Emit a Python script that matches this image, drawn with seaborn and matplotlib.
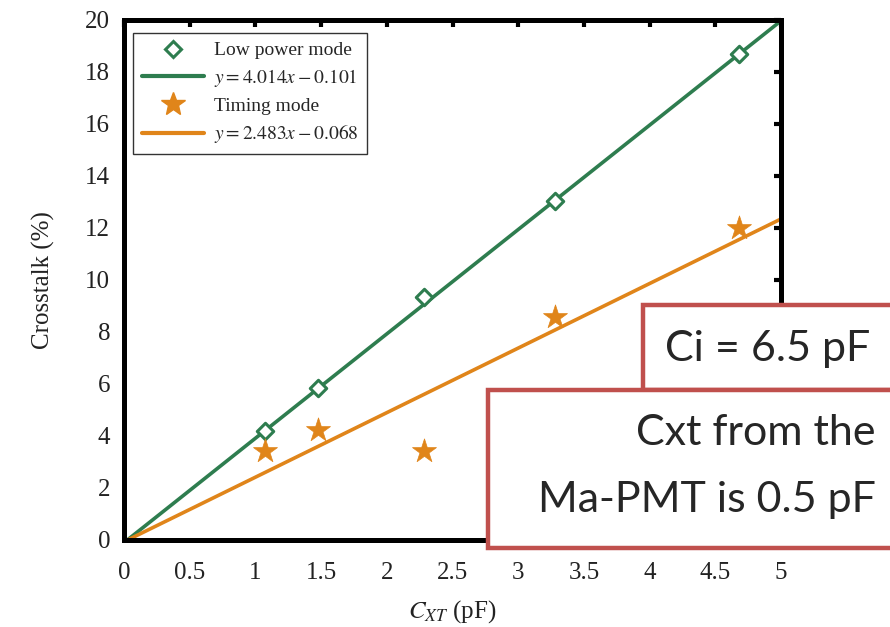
import numpy as np
import pandas as pd
import matplotlib
matplotlib.use("Agg")
import matplotlib.pyplot as plt
from matplotlib.patches import Rectangle
from matplotlib.lines import Line2D
import seaborn as sns

# Measured crosstalk versus coupling capacitance
cxt = [1.07, 1.48, 2.28, 3.28, 4.68]
low_power = [4.2, 5.85, 9.35, 13.03, 18.7]
timing = [3.42, 4.23, 3.42, 8.58, 12.0]

# Linear fits (slope, intercept)
fit_low = (4.014, -0.101)
fit_timing = (2.483, -0.068)

x_ticks = [0, 0.5, 1, 1.5, 2, 2.5, 3, 3.5, 4, 4.5, 5]
x_tick_labels = ["0", "0.5", "1", "1.5", "2", "2.5", "3", "3.5", "4", "4.5", "5"]
y_ticks = [0, 2, 4, 6, 8, 10, 12, 14, 16, 18, 20]

green = "#2E7D4F"
orange = "#E0851A"
box_red = "#C0504D"

sns.set_theme(style="white")
plt.rcParams["font.family"] = ["Liberation Serif", "DejaVu Serif"]
plt.rcParams["mathtext.fontset"] = "stix"

fig = plt.figure(figsize=(8.9, 6.27), dpi=100)
ax = fig.add_axes([124 / 890, 1 - 540 / 627, (781 - 124) / 890, (540 - 20) / 627])

points = pd.DataFrame({"cxt": cxt, "low": low_power, "timing": timing})
xfit = np.array([0.0, 5.0])
fits = pd.DataFrame({
    "x": xfit,
    "low": fit_low[0] * xfit + fit_low[1],
    "timing": fit_timing[0] * xfit + fit_timing[1],
})

sns.lineplot(data=fits, x="x", y="low", ax=ax, color=green, linewidth=2.6, zorder=2)
sns.lineplot(data=fits, x="x", y="timing", ax=ax, color=orange, linewidth=2.6, zorder=2)
sns.scatterplot(data=points, x="cxt", y="low", ax=ax, marker="D", s=70,
                facecolor="white", edgecolor=green, linewidth=2.2, zorder=3)
sns.scatterplot(data=points, x="cxt", y="timing", ax=ax, marker="*", s=330,
                color=orange, edgecolor=orange, linewidth=0.5, zorder=3)

ax.set_xlim(0, 5)
ax.set_ylim(0, 20)
ax.set_xticks(x_ticks)
ax.set_xticklabels(x_tick_labels)
ax.set_yticks(y_ticks)
ax.tick_params(axis="both", direction="in", length=5, width=3, labelsize=18,
               top=True, right=True, colors="black", labelcolor="#222222")
ax.tick_params(axis="x", pad=16)
ax.tick_params(axis="y", pad=10)
for sp in ax.spines.values():
    sp.set_visible(True)
    sp.set_linewidth(3.6)
    sp.set_color("black")

ax.set_xlabel(r"$C_{XT}$ (pF)", fontsize=18, color="#222222", labelpad=10)
ax.set_ylabel("Crosstalk (%)", fontsize=18, color="#222222", labelpad=22)

handles = [
    Line2D([], [], linestyle="none", marker="D", markersize=8, markerfacecolor="white",
           markeredgecolor=green, markeredgewidth=2.2),
    Line2D([], [], color=green, linewidth=3),
    Line2D([], [], linestyle="none", marker="*", markersize=18, color=orange),
    Line2D([], [], color=orange, linewidth=3),
]
labels = [
    "Low power mode",
    r"$y = 4.014x - 0.101$",
    "Timing mode",
    r"$y = 2.483x - 0.068$",
]
leg = ax.legend(handles, labels, loc="upper left",
                bbox_to_anchor=((133 - 124) / 657, (540 - 33) / 520),
                fontsize=14, frameon=True, fancybox=False, edgecolor="#333333",
                framealpha=1, handlelength=3.2, labelspacing=0.4, borderpad=0.45,
                handletextpad=0.5, borderaxespad=0)
leg.get_frame().set_linewidth(1.0)

# Annotation callout boxes
def fig_rect(x0, y0, x1, y1):
    return Rectangle((x0 / 890, 1 - y1 / 627), (x1 - x0) / 890, (y1 - y0) / 627,
                     transform=fig.transFigure, facecolor="white", edgecolor=box_red,
                     linewidth=3.2, zorder=10)

fig.patches.append(fig_rect(643, 305, 900, 390))
fig.patches.append(fig_rect(488, 390, 900, 548))

sans = ["Lato", "DejaVu Sans"]
fig.text(768 / 890, 1 - 349 / 627, "Ci = 6.5 pF", fontsize=31, family=sans,
         ha="center", va="center", zorder=11)
fig.text(876 / 890, 1 - 433 / 627, "Cxt from the", fontsize=31, family=sans,
         ha="right", va="center", zorder=11)
fig.text(876 / 890, 1 - 500 / 627, "Ma-PMT is 0.5 pF", fontsize=31, family=sans,
         ha="right", va="center", zorder=11)

fig.savefig("out.png", dpi=100)
